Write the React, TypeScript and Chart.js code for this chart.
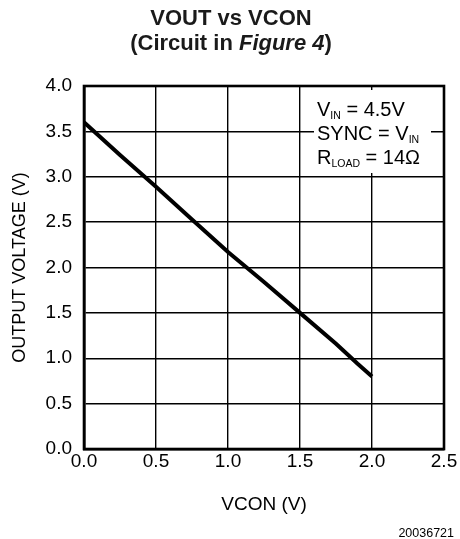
import React, { useEffect, useRef } from "react";
import { Chart, registerables } from "chart.js";

Chart.register(...registerables);

const vcon: number[] = [0, 0.25, 0.5, 0.75, 1.0, 1.25, 1.5, 1.75, 1.9, 2.0];
const vout: number[] = [3.6, 3.24, 2.89, 2.53, 2.17, 1.84, 1.5, 1.16, 0.94, 0.8];

const xTitle = "VCON (V)";
const yTitle = "OUTPUT VOLTAGE (V)";
const titleLine1 = "VOUT vs VCON";
const titleLine2Parts = [
  { t: "(Circuit in ", italic: false },
  { t: "Figure 4", italic: true },
  { t: ")", italic: false },
];
const legendLines = [
  [{ t: "V" }, { t: "IN", sub: true }, { t: " = 4.5V" }],
  [{ t: "SYNC = V" }, { t: "IN", sub: true }],
  [{ t: "R" }, { t: "LOAD", sub: true }, { t: " = 14\u03A9" }],
];
const footnote = "20036721";

const FONT = "'Liberation Sans', Arial, Helvetica, sans-serif";

const decorPlugin = {
  id: "decor",
  beforeDatasetsDraw(chart: any) {
    const { ctx, chartArea } = chart;
    ctx.save();
    // frame
    ctx.strokeStyle = "#000";
    ctx.lineWidth = 2.6;
    ctx.strokeRect(chartArea.left, chartArea.top, chartArea.right - chartArea.left, chartArea.bottom - chartArea.top);
    // legend box background
    ctx.fillStyle = "#fff";
    ctx.fillRect(314, 90, 117, 83);
    // legend text
    ctx.fillStyle = "#000";
    ctx.textBaseline = "alphabetic";
    ctx.textAlign = "left";
    const baselines = [116, 139.5, 164];
    legendLines.forEach((parts: any[], i: number) => {
      let x = 317;
      const y = baselines[i];
      parts.forEach((p) => {
        if (p.sub) {
          ctx.font = `10.5px ${FONT}`;
          ctx.fillText(p.t, x, y + 3);
          x += ctx.measureText(p.t).width;
        } else {
          ctx.font = `20px ${FONT}`;
          ctx.fillText(p.t, x, y);
          x += ctx.measureText(p.t).width;
        }
      });
    });
    ctx.restore();
  },
  afterDraw(chart: any) {
    const { ctx } = chart;
    ctx.save();
    ctx.fillStyle = "#1a1a1a";
    ctx.textBaseline = "middle";
    // title line 1
    ctx.textAlign = "center";
    ctx.font = `bold 22px ${FONT}`;
    ctx.fillText(titleLine1, 231, 19);
    // title line 2 with italic part
    ctx.textAlign = "left";
    let total = 0;
    titleLine2Parts.forEach((p) => {
      ctx.font = `${p.italic ? "italic " : ""}bold 22px ${FONT}`;
      total += ctx.measureText(p.t).width;
    });
    let x = 231 - total / 2;
    titleLine2Parts.forEach((p) => {
      ctx.font = `${p.italic ? "italic " : ""}bold 22px ${FONT}`;
      ctx.fillText(p.t, x, 44);
      x += ctx.measureText(p.t).width;
    });
    // footnote
    ctx.fillStyle = "#000";
    ctx.textAlign = "right";
    ctx.font = `12.5px ${FONT}`;
    ctx.fillText(footnote, 454, 534);
    ctx.restore();
  },
};

export default function App() {
  const ref = useRef<HTMLCanvasElement | null>(null);

  useEffect(() => {
    if (!ref.current) return;
    const chart = new Chart(ref.current, {
      type: "line",
      data: {
        datasets: [
          {
            data: vcon.map((x, i) => ({ x, y: vout[i] })),
            borderColor: "#000",
            borderWidth: 4,
            pointRadius: 0,
            tension: 0,
            fill: false,
          },
        ],
      },
      options: {
        responsive: false,
        animation: false,
        devicePixelRatio: 1,
        layout: { padding: { top: 86, right: 16, left: 0, bottom: 0 } },
        plugins: {
          legend: { display: false },
          title: { display: false },
          tooltip: { enabled: false },
        },
        scales: {
          x: {
            type: "linear",
            min: 0,
            max: 2.5,
            afterFit: (s: any) => {
              s.height = 90;
            },
            ticks: {
              stepSize: 0.5,
              padding: 1,
              color: "#000",
              font: { family: FONT, size: 19 },
              callback: (v: any) => Number(v).toFixed(1),
              maxRotation: 0,
            },
            grid: { color: "#000", lineWidth: 1.4, drawTicks: false },
            border: { color: "#000", width: 2.6 },
            title: {
              display: true,
              text: xTitle,
              color: "#000",
              font: { family: FONT, size: 19 },
              padding: { top: 0, bottom: 22.6 },
            },
          },
          y: {
            type: "linear",
            min: 0,
            max: 4,
            afterFit: (s: any) => {
              s.width = 84;
            },
            ticks: {
              stepSize: 0.5,
              padding: 12,
              color: "#000",
              font: { family: FONT, size: 19 },
              callback: (v: any) => Number(v).toFixed(1),
            },
            grid: { color: "#000", lineWidth: 1.4, drawTicks: false },
            border: { color: "#000", width: 2.6 },
            title: {
              display: true,
              text: yTitle,
              color: "#000",
              font: { family: FONT, size: 18 },
              padding: { top: 9.7, bottom: 0 },
            },
          },
        },
      },
      plugins: [decorPlugin],
    });
    return () => chart.destroy();
  }, []);

  return (
    <div style={{ position: "absolute", left: 0, top: 0, width: 460, height: 539, background: "#fff" }}>
      <canvas ref={ref} width={460} height={539} />
    </div>
  );
}
